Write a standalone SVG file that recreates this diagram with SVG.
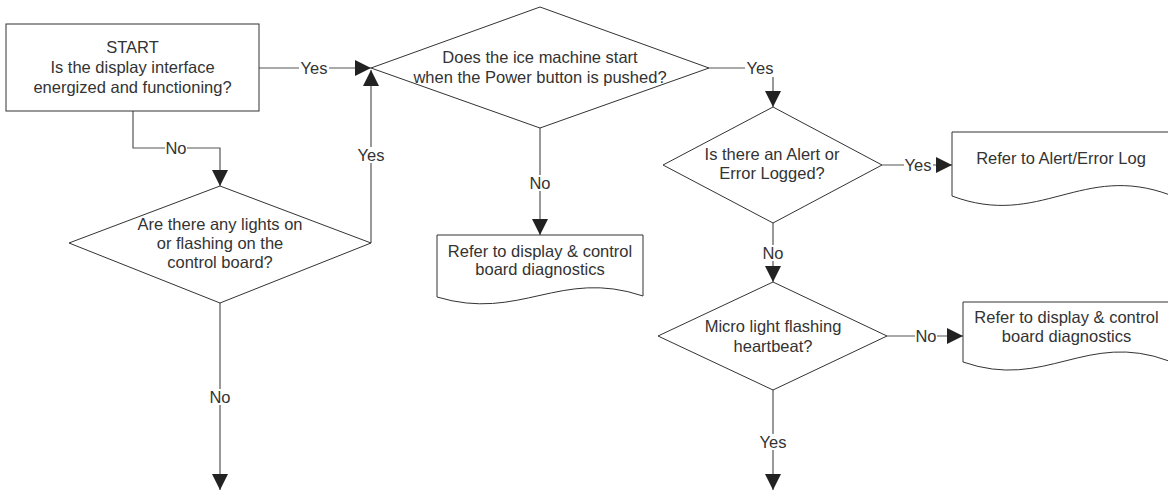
<svg xmlns="http://www.w3.org/2000/svg" width="1168" height="491" viewBox="0 0 1168 491">
  <defs>
    <marker id="arrow" markerUnits="userSpaceOnUse" markerWidth="16" markerHeight="16" viewBox="0 0 14 14" refX="14" refY="7" orient="auto">
      <path d="M0,0 L14,7 L0,14 Z" fill="#222"/>
    </marker>
  </defs>
  <style>
    .shape { fill: #fff; stroke: #333; stroke-width: 1; }
    .conn { fill: none; stroke: #555; stroke-width: 1.2; marker-end: url(#arrow); }
    text { font-family: "Liberation Sans", Arial, sans-serif; font-size: 16.5px; fill: #333; text-anchor: middle; }
    .lblbg { fill: #fff; }
  </style>
  <rect width="1168" height="491" fill="#fff"/>

  <!-- connectors -->
  <g id="connectors">
    <path class="conn" d="M259,68 H371"/>
    <path class="conn" d="M371,243 V70"/>
    <path class="conn" d="M133,111 V148 H220 V186"/>
    <path class="conn" d="M220,303 V490"/>
    <path class="conn" d="M540,128 V235"/>
    <path class="conn" d="M709,68 H773 V107"/>
    <path class="conn" d="M882,165 H952"/>
    <path class="conn" d="M773,223 V282"/>
    <path class="conn" d="M887,336 H963"/>
    <path class="conn" d="M773,390 V490"/>

    <!-- labels on connectors -->
    <rect class="lblbg" x="299" y="60" width="30" height="16"/>
    <text x="314" y="74">Yes</text>
    <rect class="lblbg" x="356" y="147" width="30" height="16"/>
    <text x="371" y="161">Yes</text>
    <rect class="lblbg" x="165" y="140" width="22" height="16"/>
    <text x="176" y="154">No</text>
    <rect class="lblbg" x="209" y="389" width="22" height="16"/>
    <text x="220" y="403">No</text>
    <rect class="lblbg" x="529" y="175" width="22" height="16"/>
    <text x="540" y="189">No</text>
    <rect class="lblbg" x="745" y="60" width="31" height="17"/>
    <text x="760" y="74">Yes</text>
    <rect class="lblbg" x="904" y="157" width="29" height="16"/>
    <text x="918" y="171">Yes</text>
    <rect class="lblbg" x="762" y="245" width="22" height="16"/>
    <text x="773" y="259">No</text>
    <rect class="lblbg" x="915" y="328" width="22" height="16"/>
    <text x="926" y="342">No</text>
    <rect class="lblbg" x="758" y="434" width="30" height="16"/>
    <text x="773" y="448">Yes</text>
  </g>

  <!-- start box -->
  <g id="start">
    <rect class="shape" x="6" y="24" width="253" height="87"/>
    <text x="132.5" y="53">START</text>
    <text x="132.5" y="73">Is the display interface</text>
    <text x="132.5" y="93">energized and functioning?</text>
  </g>

  <!-- decision: ice machine start -->
  <g id="decision-power">
    <polygon class="shape" points="371,68 540,7 709,68 540,128"/>
    <text x="540" y="63">Does the ice machine start</text>
    <text x="540" y="83">when the Power button is pushed?</text>
  </g>

  <!-- decision: board lights -->
  <g id="decision-lights">
    <polygon class="shape" points="69,243 220,186 371,243 220,303"/>
    <text x="220" y="230">Are there any lights on</text>
    <text x="220" y="249">or flashing on the</text>
    <text x="220" y="268">control board?</text>
  </g>

  <!-- document: display & control diagnostics (middle) -->
  <g id="doc-diagnostics-1">
    <path class="shape" d="M437,235 H643 V296 C560,268 520,322 437,297 Z"/>
    <text x="540" y="257">Refer to display &amp; control</text>
    <text x="540" y="275">board diagnostics</text>
  </g>

  <!-- decision: alert / error -->
  <g id="decision-alert">
    <polygon class="shape" points="663,165 773,107 882,165 773,223"/>
    <text x="772" y="160">Is there an Alert or</text>
    <text x="772" y="179">Error Logged?</text>
  </g>

  <!-- document: alert / error log -->
  <g id="doc-alert-log">
    <path class="shape" d="M952,132 H1170 V195 C1082,162 1040,229 952,196 Z"/>
    <text x="1061" y="164">Refer to Alert/Error Log</text>
  </g>

  <!-- decision: micro heartbeat -->
  <g id="decision-micro">
    <polygon class="shape" points="658,336 773,282 887,336 773,390"/>
    <text x="773" y="332">Micro light flashing</text>
    <text x="773" y="352">heartbeat?</text>
  </g>

  <!-- document: display & control diagnostics (right) -->
  <g id="doc-diagnostics-2">
    <path class="shape" d="M963,302 H1169 V361 C1086,330 1046,391 963,362 Z"/>
    <text x="1066.5" y="323">Refer to display &amp; control</text>
    <text x="1066.5" y="342">board diagnostics</text>
  </g>
</svg>
